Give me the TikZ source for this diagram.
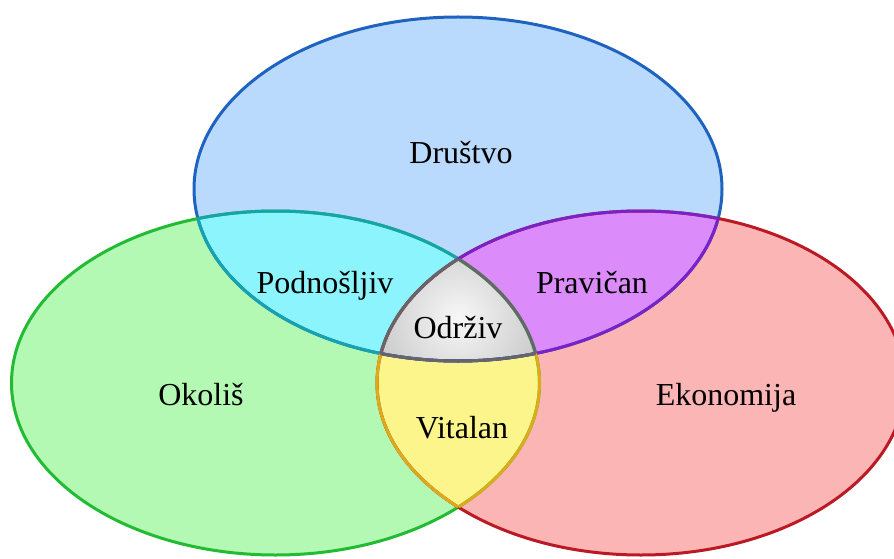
\documentclass[tikz,border=0pt]{standalone}
\usepackage{fontspec}
\setmainfont{Liberation Serif}
\definecolor{fTop}{HTML}{B9DAFC}
\definecolor{fLeft}{HTML}{B3F8B3}
\definecolor{fRight}{HTML}{FCB5B5}
\definecolor{fCyan}{HTML}{8CF4FC}
\definecolor{fPurp}{HTML}{DC8CFA}
\definecolor{fYel}{HTML}{FCF58C}
\definecolor{fGray}{HTML}{D9D9D9}
\definecolor{bTop}{HTML}{1E63C0}
\definecolor{bLeft}{HTML}{22BB33}
\definecolor{bRight}{HTML}{BB1A24}
\definecolor{bCyan}{HTML}{15A3AE}
\definecolor{bPurp}{HTML}{7A22C8}
\definecolor{bYel}{HTML}{DDAA18}
\definecolor{bGray}{HTML}{666666}
\begin{document}
\begin{tikzpicture}[x=1pt,y=1pt,
  lbl/.style={font=\fontsize{32}{37}\selectfont, anchor=base, inner sep=0pt, text=black},
  rim/.style={line width=3pt}]
\useasboundingbox (0,0) rectangle (894,558);
\clip (0,0) rectangle (894,558);
\def\Etop{(458,369) ellipse [x radius=264, y radius=172]}
\def\Eleft{(275.5,175) ellipse [x radius=264, y radius=172]}
\def\Eright{(641,175) ellipse [x radius=264, y radius=172]}
% base fills
\fill[fLeft] \Eleft;
\fill[fRight] \Eright;
\fill[fTop] \Etop;
% pair overlaps
\begin{scope}\clip \Etop; \fill[fCyan] \Eleft; \fill[fPurp] \Eright; \end{scope}
\begin{scope}\clip \Eleft; \fill[fYel] \Eright; \end{scope}
% centre
\begin{scope}\clip \Etop; \clip \Eleft; \clip \Eright;
  \shade[inner color=white!80!fGray, outer color=fGray!92!black] (458,240) circle (90);
\end{scope}
% outlines
\draw[rim, bTop] \Etop;
\draw[rim, bLeft] \Eleft;
\draw[rim, bRight] \Eright;
\begin{scope}\clip \Eleft; \draw[rim, bCyan] \Etop; \draw[rim, bYel] \Eright; \end{scope}
\begin{scope}\clip \Eright; \draw[rim, bPurp] \Etop; \draw[rim, bYel] \Eleft; \end{scope}
\begin{scope}\clip \Etop; \draw[rim, bCyan] \Eleft; \draw[rim, bPurp] \Eright; \end{scope}
\begin{scope}\clip \Etop; \clip \Eleft; \draw[rim, bGray] \Eright; \end{scope}
\begin{scope}\clip \Etop; \clip \Eright; \draw[rim, bGray] \Eleft; \end{scope}
\begin{scope}\clip \Eleft; \clip \Eright; \draw[rim, bGray] \Etop; \end{scope}
% labels
\node[lbl] (drustvo) at (461,394) {Društvo};
\node[lbl] (podnosljiv) at (325,265) {Podnošljiv};
\node[lbl] (pravican) at (592,265) {Pravičan};
\node[lbl] (odrziv) at (458,220) {Održiv};
\node[lbl] (okolis) at (201,153) {Okoliš};
\node[lbl] (vitalan) at (462,120) {Vitalan};
\node[lbl] (ekonomija) at (726,153) {Ekonomija};
\end{tikzpicture}
\end{document}
